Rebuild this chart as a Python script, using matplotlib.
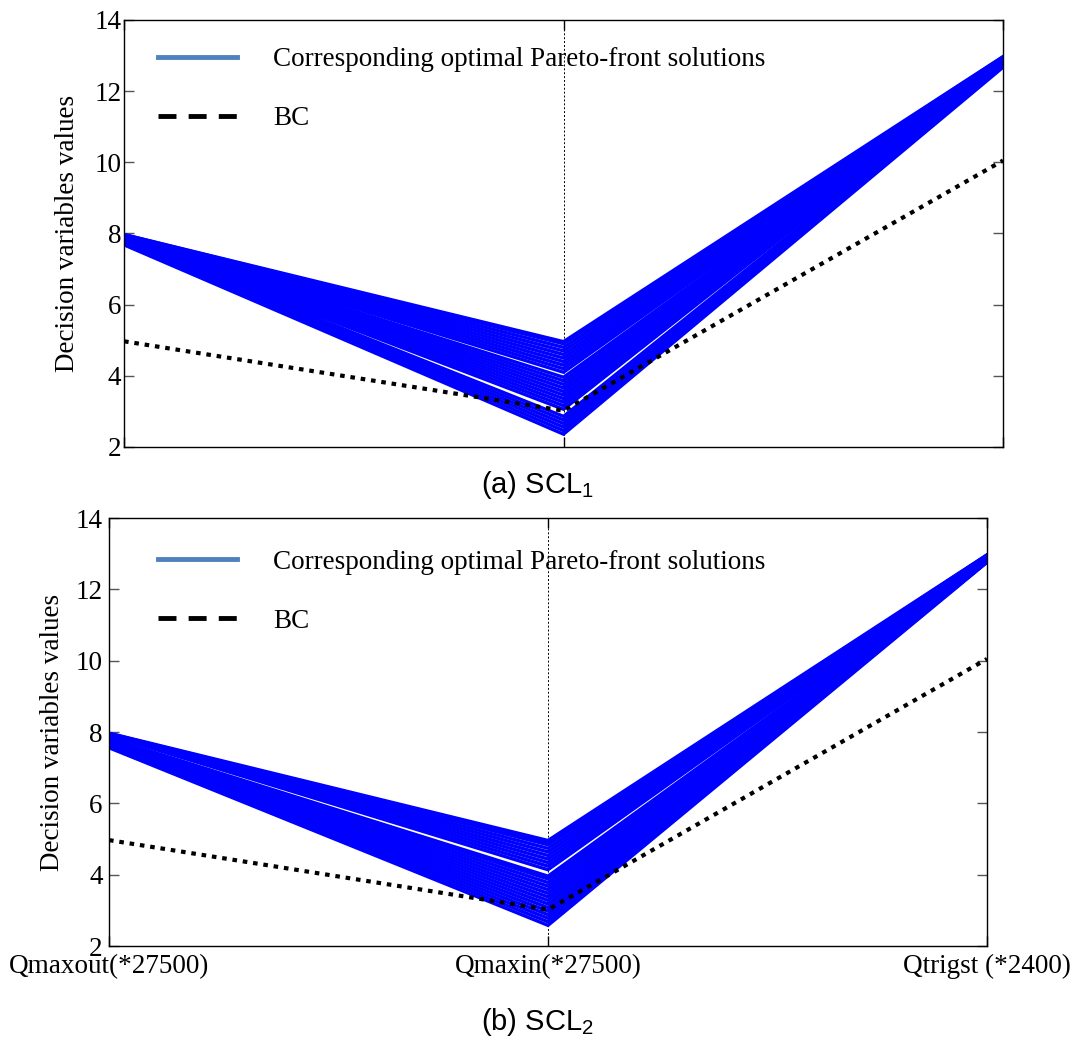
import matplotlib
matplotlib.use("Agg")
import matplotlib.pyplot as plt
from matplotlib.lines import Line2D

plt.rcParams['font.family'] = ['Liberation Serif', 'DejaVu Serif']
plt.rcParams['mathtext.fontset'] = 'custom'
plt.rcParams['mathtext.rm'] = 'Liberation Sans'

# axes of the parallel plot
axis_names = ['Qmaxout(*27500)', 'Qmaxin(*27500)', 'Qtrigst (*2400)']

# (a) SCL1 : pareto solutions, one value per axis for each line
top_left = [7.68, 7.70, 7.72, 7.74, 7.76, 7.78,
            7.77, 7.79, 7.80, 7.81, 7.82, 7.83, 7.84, 7.85, 7.86, 7.87,
            7.89, 7.90, 7.91, 7.92, 7.93, 7.94, 7.95, 7.96, 7.97, 7.97]
top_mid = [2.36, 2.46, 2.56, 2.66, 2.76, 2.86,
           3.06, 3.16, 3.26, 3.36, 3.46, 3.56, 3.66, 3.76, 3.86, 3.96,
           4.10, 4.20, 4.30, 4.40, 4.50, 4.60, 4.70, 4.80, 4.90, 4.96]
top_right = [12.67, 12.69, 12.71, 12.73, 12.75, 12.77,
             12.78, 12.79, 12.80, 12.81, 12.82, 12.83, 12.84, 12.85, 12.86, 12.87,
             12.88, 12.89, 12.90, 12.91, 12.92, 12.93, 12.94, 12.95, 12.96, 12.97]

# (b) SCL2
bot_left = [7.56, 7.58, 7.60, 7.62, 7.64, 7.66, 7.68, 7.70, 7.72, 7.74, 7.76, 7.78, 7.80, 7.82, 7.83,
            7.91, 7.92, 7.93, 7.94, 7.94, 7.95, 7.95, 7.96, 7.96, 7.97]
bot_mid = [2.58, 2.68, 2.78, 2.88, 2.98, 3.08, 3.18, 3.28, 3.38, 3.48, 3.58, 3.68, 3.78, 3.88, 3.96,
           4.14, 4.24, 4.34, 4.44, 4.54, 4.64, 4.74, 4.84, 4.91, 4.96]
bot_right = [12.76, 12.77, 12.77, 12.78, 12.79, 12.80, 12.80, 12.81, 12.82, 12.82, 12.83, 12.84, 12.85, 12.85, 12.86,
             12.89, 12.90, 12.91, 12.92, 12.93, 12.94, 12.95, 12.96, 12.96, 12.97]

# base case
bc_vals = [4.97, 3.02, 10.05]

yticks = [2, 4, 6, 8, 10, 12, 14]

fig = plt.figure(figsize=(10.74, 10.5), dpi=100)
ax1 = fig.add_axes([0.1155, 0.5743, 0.8184, 0.4067])
ax2 = fig.add_axes([0.1015, 0.0990, 0.8175, 0.4076])

dot_style = (0, (1.1, 1.4))
fs = 19.5

def draw_panel(ax, left, mid, right, leg_x, leg_y, label_pad):
    xs = [1, 2, 3]
    for i in range(len(left)):
        ax.plot(xs, [left[i], mid[i], right[i]], color='#0000ff', lw=2.4,
                solid_joinstyle='miter', zorder=2)
    ax.plot(xs, bc_vals, color='black', lw=3.0, linestyle=dot_style, zorder=3)
    ax.axvline(2, color='black', lw=0.7, linestyle=(0, (2, 2)), zorder=1)
    ax.set_xlim(1, 3)
    ax.set_ylim(2, 14)
    ax.set_yticks(yticks)
    ax.set_xticks(xs)
    ax.tick_params(axis='y', direction='in', length=7, width=1, color='#555555',
                   right=True, labelsize=fs, pad=label_pad)
    ax.tick_params(axis='x', direction='in', length=7, width=1, top=True, labelsize=fs)
    for s in ax.spines.values():
        s.set_linewidth(1.0)
    ax.set_ylabel('Decision variables values', fontsize=fs)
    ax.yaxis.set_label_coords(-0.050, 0.5)
    handles = [Line2D([], [], color='#4f81bd', lw=3.5),
               Line2D([], [], color='black', lw=3.5, linestyle=(0, (3.7, 2.5)))]
    ax.legend(handles, ['Corresponding optimal Pareto-front solutions', 'BC'],
              loc='upper left', bbox_to_anchor=(leg_x, leg_y), frameon=False,
              fontsize=fs, borderpad=0, borderaxespad=0, handlelength=2.9,
              handletextpad=1.35, labelspacing=1.25)

draw_panel(ax1, top_left, top_mid, top_right, 0.0387, 0.936, 2)
draw_panel(ax2, bot_left, bot_mid, bot_right, 0.0558, 0.926, 4.5)

ax1.set_xticklabels([])
ax2.set_xticklabels(axis_names)
ax2.tick_params(axis='x', pad=5.5)

fig.text(0.5, 1 - 485 / 1050, r'(a) SCL$_\mathregular{1}$', ha='center', va='center',
         fontsize=21, family=['Liberation Sans', 'DejaVu Sans'])
fig.text(0.5, 1 - 1022 / 1050, r'(b) SCL$_\mathregular{2}$', ha='center', va='center',
         fontsize=21, family=['Liberation Sans', 'DejaVu Sans'])

fig.savefig('out.png', dpi=100)
